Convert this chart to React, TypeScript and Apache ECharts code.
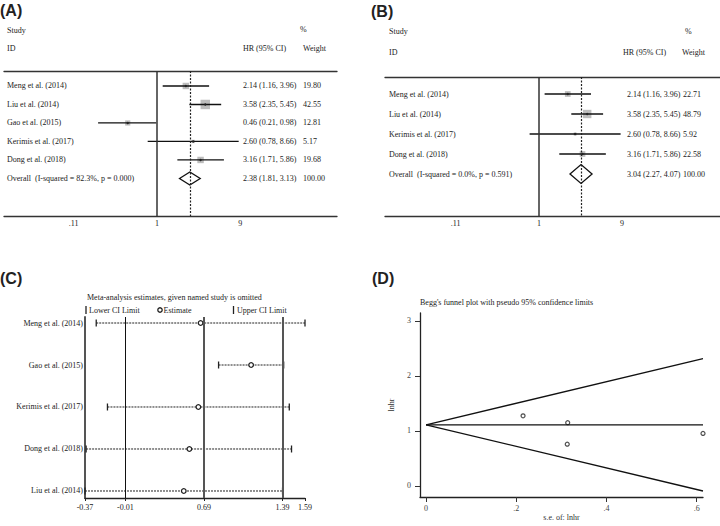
import React, { useEffect, useRef } from "react";
import * as echarts from "echarts";

// ---------- Panel A (all studies) ----------
const studiesA = ["Meng et al. (2014)", "Liu et al. (2014)", "Gao et al. (2015)", "Kerimis et al. (2017)", "Dong et al. (2018)"];
const hrA = [2.14, 3.58, 0.46, 2.6, 3.16];
const lowerA = [1.16, 2.35, 0.21, 0.78, 1.71];
const upperA = [3.96, 5.45, 0.98, 8.66, 5.86];
const weightA = [19.8, 42.55, 12.81, 5.17, 19.68];
const overallA = [2.38, 1.81, 3.13];
const overallLabelA = "Overall  (I-squared = 82.3%, p = 0.000)";

// ---------- Panel B (Gao omitted) ----------
const studiesB = ["Meng et al. (2014)", "Liu et al. (2014)", "Kerimis et al. (2017)", "Dong et al. (2018)"];
const hrB = [2.14, 3.58, 2.6, 3.16];
const lowerB = [1.16, 2.35, 0.78, 1.71];
const upperB = [3.96, 5.45, 8.66, 5.86];
const weightB = [22.71, 48.79, 5.92, 22.58];
const overallB = [3.04, 2.27, 4.07];
const overallLabelB = "Overall  (I-squared = 0.0%, p = 0.591)";

const forestTicks = [0.11, 1, 9];
const forestTickLabels = [".11", "1", "9"];

// ---------- Panel C (sensitivity) ----------
const studiesC = ["Meng et al. (2014)", "Gao et al. (2015)", "Kerimis et al. (2017)", "Dong et al. (2018)", "Liu et al. (2014)"];
const estimateC = [0.66, 1.11, 0.64, 0.56, 0.51];
const lowerC = [-0.27, 0.82, -0.17, -0.36, -0.37];
const upperC = [1.59, 1.4, 1.45, 1.47, 1.39];
const ticksC = [-0.37, -0.01, 0.69, 1.39, 1.59];
const refLinesC = [-0.01, 0.69, 1.39];

// ---------- Panel D (Begg's funnel) ----------
const seD = [0.215, 0.313, 0.314, 0.614];
const lnhrD = [1.275, 0.761, 1.151, 0.956];
const funnelCenter = 1.112;
const funnelMaxSe = 0.614;
const funnelUpperEnd = 2.315;
const funnelLowerEnd = -0.091;
const ticksDX = [0, 0.2, 0.4, 0.6];
const labelsDX = ["0", ".2", ".4", ".6"];
const ticksDY = [0, 1, 2, 3];

const SERIF = "'Liberation Serif', 'Times New Roman', serif";
const FONT = "8px " + SERIF;
const TXT = "#222";

function nearestLabel(v: number, vals: number[], labels: string[]) {
  let best = 0;
  for (let i = 1; i < vals.length; i++) if (Math.abs(vals[i] - v) < Math.abs(vals[best] - v)) best = i;
  return labels[best];
}

function txt(x: number, y: number, text: string, align = "left", font = FONT) {
  return { type: "text", x, y, silent: true, style: { text, font, fill: TXT, align, verticalAlign: "middle" } };
}

function forestAxes(gridIndex: number, min: number, max: number) {
  const logTicks = forestTicks.map((t) => Math.log(t));
  return [
    {
      type: "value", gridIndex, min, max, position: "bottom",
      axisLine: { show: true, onZero: false, lineStyle: { color: "#333", width: 1.3 } },
      axisTick: { show: false },
      axisLabel: {
        customValues: logTicks, margin: 3, fontSize: 8, fontFamily: SERIF, color: TXT,
        formatter: (v: number) => nearestLabel(v, logTicks, forestTickLabels),
      },
      splitLine: { show: false },
    },
    {
      type: "value", gridIndex, min, max, position: "top",
      axisLine: { show: true, onZero: false, lineStyle: { color: "#333", width: 1.3 } },
      axisTick: { show: false }, axisLabel: { show: false }, splitLine: { show: false },
    },
  ];
}

function forestSeries(
  xIdx: number, yIdx: number, names: string[], hr: number[], lo: number[], hi: number[], wt: number[],
  overall: number[], overallLabel: string, boxK: number, diamondH: number, cols: number[]
) {
  const rows = names.map((_, i) => [Math.log(lo[i]), Math.log(hi[i]), Math.log(hr[i]), i, wt[i]]);
  const fmt = (h: number, l: number, u: number) => `${h.toFixed(2)} (${l.toFixed(2)}, ${u.toFixed(2)})`;
  const rowSeries = {
    type: "custom", xAxisIndex: xIdx, yAxisIndex: yIdx, data: rows, silent: true, z: 3,
    renderItem: (params: any, api: any) => {
      const i = params.dataIndex;
      const yv = api.value(3);
      const pL = api.coord([api.value(0), yv]);
      const pU = api.coord([api.value(1), yv]);
      const pH = api.coord([api.value(2), yv]);
      const s = boxK * Math.sqrt(api.value(4));
      const cs = params.coordSys;
      const y = pH[1];
      return {
        type: "group",
        children: [
          { type: "rect", shape: { x: pH[0] - s / 2, y: y - s / 2, width: s, height: s }, style: { fill: "#bdbdbd" } },
          { type: "line", shape: { x1: pL[0], y1: y, x2: pU[0], y2: y }, style: { stroke: "#111", lineWidth: 1.3 } },
          { type: "circle", shape: { cx: pH[0], cy: y, r: 1.2 }, style: { fill: "#222" } },
          txt(cs.x + cols[0], y, names[i]),
          txt(cs.x + cols[1], y, fmt(hr[i], lo[i], hi[i])),
          txt(cs.x + cols[2], y, wt[i].toFixed(2)),
        ],
      };
    },
    markLine: {
      silent: true, symbol: "none", label: { show: false }, animation: false,
      data: [
        { xAxis: 0, lineStyle: { type: "solid", color: "#333", width: 1.5 } },
        { xAxis: Math.log(overall[0]), lineStyle: { type: [2, 1.5], color: "#222", width: 1.2 } },
      ],
    },
  };
  const ovRow = names.length;
  const overallSeries = {
    type: "custom", xAxisIndex: xIdx, yAxisIndex: yIdx, silent: true, z: 4,
    data: [[Math.log(overall[1]), Math.log(overall[2]), Math.log(overall[0]), ovRow, 100]],
    renderItem: (params: any, api: any) => {
      const yv = api.value(3);
      const pL = api.coord([api.value(0), yv]);
      const pU = api.coord([api.value(1), yv]);
      const pH = api.coord([api.value(2), yv]);
      const cs = params.coordSys;
      const y = pH[1];
      return {
        type: "group",
        children: [
          {
            type: "polygon",
            shape: { points: [[pL[0], y], [pH[0], y - diamondH], [pU[0], y], [pH[0], y + diamondH]] },
            style: { fill: "none", stroke: "#111", lineWidth: 1.3 },
          },
          txt(cs.x + cols[0], y, overallLabel),
          txt(cs.x + cols[1], y, fmt(overall[0], overall[1], overall[2])),
          txt(cs.x + cols[2], y, (100).toFixed(2)),
        ],
      };
    },
  };
  return [rowSeries, overallSeries];
}

export default function App() {
  const ref = useRef<HTMLDivElement>(null);
  useEffect(() => {
    if (!ref.current) return;
    const chart = echarts.init(ref.current, null, { renderer: "svg" });

    const cRows = studiesC.map((_, i) => [lowerC[i], upperC[i], estimateC[i], i]);

    const option: any = {
      animation: false,
      backgroundColor: "#fff",
      grid: [
        { left: 4, top: 71, width: 333, height: 145 },
        { left: 385, top: 77, width: 335, height: 139 },
        { left: 85, top: 317, width: 220, height: 181 },
        { left: 420, top: 313, width: 283, height: 184 },
      ],
      xAxis: [
        ...forestAxes(0, -4.05, 4.76),
        ...forestAxes(1, -4.074, 4.788),
        {
          type: "value", gridIndex: 2, min: -0.37, max: 1.59,
          axisLine: { show: true, onZero: false, lineStyle: { color: "#222", width: 1.3 } },
          axisTick: { show: true, customValues: ticksC, length: 3, lineStyle: { color: "#222" } },
          axisLabel: {
            customValues: ticksC, margin: 5, fontSize: 8, fontFamily: SERIF, color: TXT,
            formatter: (v: number) => v.toFixed(2),
          },
          splitLine: { show: false },
        },
        {
          type: "value", gridIndex: 3, min: -0.0135, max: funnelMaxSe,
          name: "s.e. of: lnhr", nameLocation: "middle", nameGap: 16,
          nameTextStyle: { fontSize: 8, fontFamily: SERIF, color: "#333" },
          axisLine: { show: true, onZero: false, lineStyle: { color: "#222", width: 1.3 } },
          axisTick: { show: true, customValues: ticksDX, length: 5, lineStyle: { color: "#333" } },
          axisLabel: {
            customValues: ticksDX, margin: 7, fontSize: 8, fontFamily: SERIF, color: "#444",
            formatter: (v: number) => nearestLabel(v, ticksDX, labelsDX),
          },
          splitLine: { show: false },
        },
      ],
      yAxis: [
        { type: "value", gridIndex: 0, inverse: true, min: -0.81, max: 7.03, show: false },
        { type: "value", gridIndex: 1, inverse: true, min: -0.85, max: 6.1, show: false },
        {
          type: "value", gridIndex: 2, inverse: true, min: -0.143, max: 4.167,
          axisLine: { show: true, onZero: false, lineStyle: { color: "#555", width: 2 } },
          axisTick: { show: false },
          axisLabel: {
            customValues: [0, 1, 2, 3, 4], margin: 2, fontSize: 8, fontFamily: SERIF, color: TXT,
            formatter: (v: number) => studiesC[Math.round(v)],
          },
          splitLine: { show: false },
        },
        {
          type: "value", gridIndex: 3, min: -0.2, max: 3.145,
          name: "lnhr", nameLocation: "middle", nameGap: 25,
          nameTextStyle: { fontSize: 8, fontFamily: SERIF, color: "#333" },
          axisLine: { show: true, onZero: false, lineStyle: { color: "#222", width: 1.3 } },
          axisTick: { show: true, customValues: ticksDY, length: 5, lineStyle: { color: "#333" } },
          axisLabel: {
            customValues: ticksDY, margin: 9, fontSize: 8, fontFamily: SERIF, color: "#444",
            formatter: (v: number) => String(Math.round(v)),
          },
          splitLine: { show: false },
        },
      ],
      series: [
        ...forestSeries(0, 0, studiesA, hrA, lowerA, upperA, weightA, overallA, overallLabelA, 1.45, 6.5, [3, 239, 299]),
        ...forestSeries(2, 1, studiesB, hrB, lowerB, upperB, weightB, overallB, overallLabelB, 1.2, 9.5, [4, 242, 298]),
        {
          type: "custom", xAxisIndex: 4, yAxisIndex: 2, data: cRows, silent: true, z: 3,
          renderItem: (params: any, api: any) => {
            const yv = api.value(3);
            const pL = api.coord([api.value(0), yv]);
            const pU = api.coord([api.value(1), yv]);
            const pE = api.coord([api.value(2), yv]);
            const y = pE[1];
            return {
              type: "group",
              children: [
                { type: "line", shape: { x1: pL[0], y1: y, x2: pU[0], y2: y }, style: { stroke: "#222", lineWidth: 1, lineDash: [2, 1] } },
                { type: "line", shape: { x1: pL[0], y1: y - 3.5, x2: pL[0], y2: y + 3.5 }, style: { stroke: "#222", lineWidth: 1.3 } },
                { type: "line", shape: { x1: pU[0], y1: y - 3.5, x2: pU[0], y2: y + 3.5 }, style: { stroke: "#222", lineWidth: 1.3 } },
                { type: "circle", shape: { cx: pE[0], cy: y, r: 2.3 }, style: { fill: "#fff", stroke: "#222", lineWidth: 1.3 } },
              ],
            };
          },
          markLine: {
            silent: true, symbol: "none", label: { show: false }, animation: false,
            data: refLinesC.map((v, i) => ({
              xAxis: v,
              lineStyle: { type: "solid", color: i === 0 ? "#111" : "#555", width: i === 0 ? 1 : 2 },
            })),
          },
        },
        {
          type: "line", xAxisIndex: 5, yAxisIndex: 3, symbol: "none", silent: true,
          lineStyle: { color: "#111", width: 1.3 },
          data: [[0, funnelCenter], [funnelMaxSe, funnelUpperEnd]],
        },
        {
          type: "line", xAxisIndex: 5, yAxisIndex: 3, symbol: "none", silent: true,
          lineStyle: { color: "#111", width: 1.3 },
          data: [[0, funnelCenter], [funnelMaxSe, funnelCenter]],
        },
        {
          type: "line", xAxisIndex: 5, yAxisIndex: 3, symbol: "none", silent: true,
          lineStyle: { color: "#111", width: 1.3 },
          data: [[0, funnelCenter], [funnelMaxSe, funnelLowerEnd]],
        },
        {
          type: "scatter", xAxisIndex: 5, yAxisIndex: 3, silent: true, symbol: "circle", symbolSize: 4,
          itemStyle: { color: "#fff", borderColor: "#222", borderWidth: 1.2 },
          data: seD.map((s, i) => [s, lnhrD[i]]),
        },
      ],
      graphic: [
        txt(0, 10, "(A)", "left", "bold 16px 'Liberation Sans', Arial, sans-serif"),
        txt(371, 11, "(B)", "left", "bold 16px 'Liberation Sans', Arial, sans-serif"),
        txt(0, 278, "(C)", "left", "bold 16px 'Liberation Sans', Arial, sans-serif"),
        txt(372, 278, "(D)", "left", "bold 16px 'Liberation Sans', Arial, sans-serif"),
        // A headers
        txt(7, 30, "Study"), txt(7, 48, "ID"), txt(300, 29, "%"),
        txt(243, 48, "HR (95% CI)"), txt(303, 48, "Weight"),
        // B headers
        txt(389, 31, "Study"), txt(389, 52, "ID"), txt(685, 31, "%"),
        txt(623, 52, "HR (95% CI)"), txt(682, 52, "Weight"),
        // C title and legend
        txt(87, 297, "Meta-analysis estimates, given named study is omitted"),
        { type: "line", silent: true, shape: { x1: 86, y1: 306, x2: 86, y2: 314 }, style: { stroke: "#222", lineWidth: 1.3 } },
        txt(89, 310, "Lower CI Limit"),
        { type: "circle", silent: true, shape: { cx: 160, cy: 310, r: 2.2 }, style: { fill: "#fff", stroke: "#222", lineWidth: 1.3 } },
        txt(163.5, 310, "Estimate"),
        { type: "line", silent: true, shape: { x1: 233.5, y1: 306, x2: 233.5, y2: 314 }, style: { stroke: "#222", lineWidth: 1.3 } },
        txt(237, 310, "Upper CI Limit"),
        // D title
        txt(420, 302, "Begg's funnel plot with pseudo 95% confidence limits"),
      ],
    };

    chart.setOption(option);
    return () => chart.dispose();
  }, []);
  return <div ref={ref} style={{ position: "absolute", left: 0, top: 0, width: 720, height: 526 }} />;
}
